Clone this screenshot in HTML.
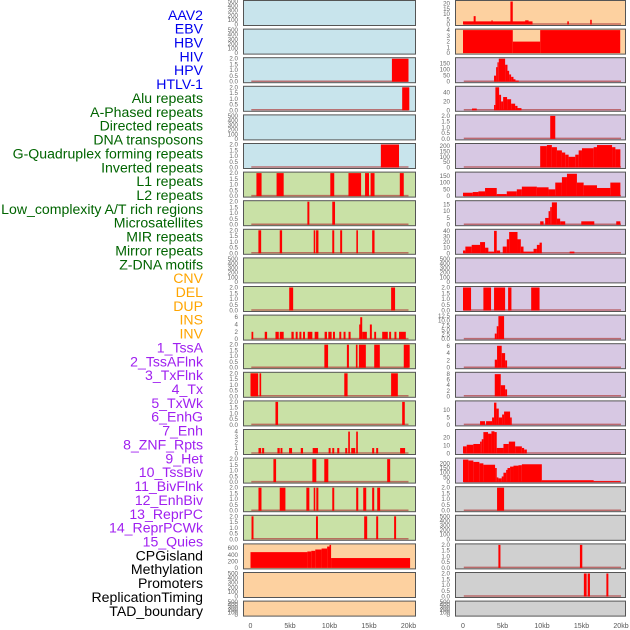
<!DOCTYPE html>
<html><head><meta charset="utf-8"><style>
body{margin:0;background:#fff;}
svg{display:block;font-family:"Liberation Sans",sans-serif;}
</style></head><body>
<svg id="c" width="630" height="630" viewBox="0 0 630 630"></svg>
<script>
// ---- data ----
const trackLabels = ["AAV2","EBV","HBV","HIV","HPV","HTLV-1","Alu repeats","A-Phased repeats","Directed repeats","DNA transposons","G-Quadruplex forming repeats","Inverted repeats","L1 repeats","L2 repeats","Low_complexity A/T rich regions","Microsatellites","MIR repeats","Mirror repeats","Z-DNA motifs","CNV","DEL","DUP","INS","INV","1_TssA","2_TssAFlnk","3_TxFlnk","4_Tx","5_TxWk","6_EnhG","7_Enh","8_ZNF_Rpts","9_Het","10_TssBiv","11_BivFlnk","12_EnhBiv","13_ReprPC","14_ReprPCWk","15_Quies","CPGisland","Methylation","Promoters","ReplicationTiming","TAD_boundary"];
const labelColors = ["#0000ee","#006400","#ffa500","#a020f0","#000000"];
const labelGroupSizes = [6,13,5,15,5];
const xTicks = [0,5000,10000,15000,20000];
const xTickLabels = ["0","5kb","10kb","15kb","20kb"];
const ticks500 = [0,100,200,300,400,500];
const ticks2 = [0,0.5,1,1.5,2];
// left column segments [startKb, endKb, value]
const L2 = [[17.9,20.0,2]];
const L3 = [[19.2,20.1,2]];
const L5 = [[16.5,18.8,2]];
const L6 = [[0.75,1.4,2],[3.3,4.2,2],[10.1,10.6,2],[12.4,14.0,2],[14.5,15.0,2],[15.2,15.7,2],[18.9,19.4,2]];
const L7 = [[7.2,7.45,2],[10.35,10.7,2]];
const L8 = [[1.0,1.35,2],[3.7,4.0,2],[8.0,8.2,2],[8.3,8.6,2],[10.35,10.6,2],[11.35,11.6,2],[13.4,13.6,2],[15.4,15.7,2]];
const L10 = [[4.9,5.4,2],[17.8,18.3,2]];
const L11 = [[0.13,0.35,2],[1.8,2.1,2],[3.16,3.58,2],[3.7,4.2,2],[5.18,5.47,2],[5.72,5.97,2],[6.19,6.44,2],[6.65,6.9,2],[7.24,7.83,2],[8.12,8.59,2],[9.38,9.68,2],[9.85,10.27,2],[10.44,10.69,2],[11.24,11.49,2],[11.78,12.03,2],[12.41,12.67,2],[13.76,13.98,4],[13.89,14.14,6],[14.14,14.73,2],[15.11,15.36,4],[15.66,15.9,2],[16.67,17.38,2],[17.55,17.8,2],[18.22,18.47,2],[18.8,19.66,2]];
const L12 = [[9.35,9.82,2],[12.2,12.46,2],[13.34,13.55,2],[13.72,14.6,2],[15.66,16.37,2],[19.4,20.15,2]];
const L13 = [[0,0.97,2],[1.14,1.35,2],[11.87,12.29,2],[17.8,18.65,2]];
const L14 = [[3.16,3.49,2],[19.2,19.53,2]];
const L15 = [[1.01,1.35,1],[1.47,1.73,1],[3.41,3.7,1],[3.8,4.04,1],[4.88,5.26,1],[6.36,6.65,1],[7.87,8.54,1],[9.89,10.14,1],[10.35,10.6,1],[10.98,11.24,1],[11.99,12.25,1],[12.37,12.58,4],[12.75,13.26,1],[13.38,13.59,4],[15.4,15.66,1],[15.91,16.16,1],[18.94,19.57,1]];
const L16 = [[2.9,3.24,2],[7.83,8.33,2],[9.34,9.85,2],[17.3,17.68,2]];
const L17 = [[1.01,1.39,2],[3.7,4.42,2],[7.07,7.45,2],[8.0,8.2,2],[8.33,8.59,2],[10.35,10.6,2],[13.38,13.64,2],[14.27,14.65,2],[15.4,15.66,2],[16.04,16.41,2]];
const L18 = [[0.13,0.38,2],[8.29,8.54,2],[14.39,14.77,2],[15.91,16.16,2],[18.18,18.43,2]];
const L19 = [[0,7.2,480],[7.2,7.7,500],[7.7,8.2,520],[8.2,9.0,560],[9.0,9.7,590],[9.7,10.0,650],[10.0,10.2,700],[10.2,20.2,300]];
// right column segments
const R0 = [[0,8.8,3],[1.35,1.6,8],[3.6,3.75,4],[6.0,6.3,22],[7.87,8.3,4],[13.2,13.4,3],[16.1,16.3,4.5]];
const R1 = [[0,6.3,4],[6.3,9.77,2],[9.77,19.9,4]];
const R2 = [[3.93,4.19,50],[4.19,4.36,120],[4.36,4.53,160],[4.53,5.33,190],[5.33,5.63,140],[5.63,5.84,90],[5.84,6.09,60],[6.09,6.39,40],[6.39,6.64,20],[6.64,7.06,10]];
const R3 = [[1.14,1.74,4],[3.93,4.1,12],[4.1,4.57,52],[4.57,4.82,35],[4.82,5.08,20],[5.08,5.58,30],[5.58,6.09,25],[6.09,6.6,15],[6.6,6.9,10],[6.9,7.4,5]];
const R4 = [[11.04,11.68,2]];
const R5 = [[9.77,10.62,200],[10.62,11.25,210],[11.25,11.89,190],[11.89,12.52,160],[12.52,12.94,140],[12.94,13.37,120],[13.37,14.21,100],[14.21,14.64,120],[14.64,15.06,160],[15.06,16.54,180],[16.54,16.96,190],[16.96,18.87,210],[18.87,19.29,190],[19.29,19.92,170]];
const R6 = [[0,1.23,25],[1.23,1.95,30],[1.95,2.79,35],[2.79,4.27,60],[4.27,5.54,15],[5.54,6.81,35],[6.81,7.45,50],[7.45,9.35,70],[9.35,10.83,65],[10.83,11.68,50],[11.68,12.52,100],[12.52,13.16,140],[13.16,14.42,165],[14.42,15.27,100],[15.27,16.96,80],[16.96,18.65,60],[18.65,19.92,100]];
const R7 = [[9.77,10.2,2.5],[10.4,10.83,5],[10.83,11.04,10],[11.04,11.25,13],[11.25,11.89,16.5],[11.89,12.3,4.5],[12.3,12.94,2.5],[14.97,16.62,2.5],[19.4,19.92,2.5]];
const R8 = [[0,0.3,5],[0.3,1.1,12],[1.1,2.16,15],[2.16,2.79,20],[2.79,3.21,10],[3.21,3.93,3],[3.93,4.27,40],[4.27,4.7,5],[5.03,5.54,12],[5.54,5.84,25],[5.84,6.9,38],[6.9,7.32,25],[7.32,7.66,12],[7.66,8.93,3],[8.93,9.35,8],[9.35,9.69,15],[9.69,9.98,19],[13.5,14.1,3]];
const R10 = [[0,1.02,2],[2.58,3.55,2],[3.93,5.33,2],[5.71,6.13,2],[8.63,9.69,2]];
const R11 = [[4.02,4.27,3],[4.27,4.48,7],[4.48,5.2,12.5]];
const R12 = [[4.02,4.31,2.2],[4.31,4.9,6],[4.9,5.33,4],[5.33,5.58,2]];
const R13 = [[4.02,4.78,8],[4.78,5.33,4],[5.33,5.58,2.5]];
const R14 = [[2.16,2.79,2.5],[2.92,3.68,2.5],[3.68,3.93,5],[3.93,4.23,15],[4.23,4.53,11],[4.53,4.95,5],[4.95,5.2,7],[5.2,5.96,9],[5.96,6.17,5]];
const R15 = [[0,0.47,9],[0.47,1.31,11],[1.31,2.16,12],[2.16,2.37,15],[2.37,2.58,18],[2.58,3.17,27],[3.17,3.6,25],[3.6,3.98,28],[3.98,4.27,27],[4.27,5.12,7],[5.12,5.8,12],[5.8,6.6,15],[6.6,7.45,9],[7.45,7.74,7],[7.74,8.08,5]];
const R16 = [[0,0.68,240],[0.68,1.31,230],[1.31,2.07,215],[2.07,2.58,200],[2.58,4.06,185],[4.06,4.27,150],[4.27,4.48,50],[4.48,4.9,40],[4.9,5.12,60],[5.12,5.46,100],[5.46,5.63,130],[5.63,5.96,150],[5.96,6.39,165],[6.39,7.02,175],[7.02,7.45,180],[7.45,9.98,190],[9.98,16.54,20],[16.54,19.92,10]];
const R17 = [[4.31,5.2,2]];
const R19 = [[4.48,4.74,2],[14.8,15.1,2]];
const R20 = [[15.3,15.65,2],[15.78,16.07,2],[18.15,18.4,2]];

const BLUE="#c8e4ec",ORANGE="#fdd1a0",PURPLE="#d7c8e3",GREEN="#c9e1a6",GREY="#d0d0d0";
const panels = [
 {c:0,r:0,bg:BLUE,ymax:500,ticks:ticks500,segs:null},
 {c:0,r:1,bg:BLUE,ymax:500,ticks:ticks500,segs:null},
 {c:0,r:2,bg:BLUE,ymax:2,ticks:ticks2,segs:L2},
 {c:0,r:3,bg:BLUE,ymax:2,ticks:ticks2,segs:L3},
 {c:0,r:4,bg:BLUE,ymax:500,ticks:ticks500,segs:null},
 {c:0,r:5,bg:BLUE,ymax:2,ticks:ticks2,segs:L5},
 {c:0,r:6,bg:GREEN,ymax:2,ticks:ticks2,segs:L6},
 {c:0,r:7,bg:GREEN,ymax:2,ticks:ticks2,segs:L7},
 {c:0,r:8,bg:GREEN,ymax:2,ticks:ticks2,segs:L8},
 {c:0,r:9,bg:GREEN,ymax:500,ticks:ticks500,segs:null},
 {c:0,r:10,bg:GREEN,ymax:2,ticks:ticks2,segs:L10},
 {c:0,r:11,bg:GREEN,ymax:6.3,ticks:[0,2,4,6],segs:L11},
 {c:0,r:12,bg:GREEN,ymax:2,ticks:ticks2,segs:L12},
 {c:0,r:13,bg:GREEN,ymax:2,ticks:ticks2,segs:L13},
 {c:0,r:14,bg:GREEN,ymax:2,ticks:ticks2,segs:L14},
 {c:0,r:15,bg:GREEN,ymax:4.2,ticks:[0,1,2,3,4],segs:L15},
 {c:0,r:16,bg:GREEN,ymax:2,ticks:ticks2,segs:L16},
 {c:0,r:17,bg:GREEN,ymax:2,ticks:ticks2,segs:L17},
 {c:0,r:18,bg:GREEN,ymax:2,ticks:ticks2,segs:L18},
 {c:0,r:19,bg:ORANGE,ymax:700,ticks:[0,200,400,600],segs:L19,nobase:true},
 {c:0,r:20,bg:ORANGE,ymax:500,ticks:ticks500,segs:null},
 {c:0,r:21,bg:ORANGE,ymax:500,ticks:ticks500,segs:null},
 {c:1,r:0,bg:ORANGE,ymax:22,ticks:[0,5,10,15,20],segs:R0},
 {c:1,r:1,bg:ORANGE,ymax:4,ticks:[0,1,2,3,4],segs:R1,nobase:true},
 {c:1,r:2,bg:PURPLE,ymax:190,ticks:[0,50,100,150],segs:R2},
 {c:1,r:3,bg:PURPLE,ymax:52,ticks:[0,20,40],segs:R3},
 {c:1,r:4,bg:PURPLE,ymax:2,ticks:ticks2,segs:R4},
 {c:1,r:5,bg:PURPLE,ymax:215,ticks:[0,50,100,150,200],segs:R5},
 {c:1,r:6,bg:PURPLE,ymax:170,ticks:[0,50,100,150],segs:R6},
 {c:1,r:7,bg:PURPLE,ymax:17,ticks:[0,5,10,15],segs:R7},
 {c:1,r:8,bg:PURPLE,ymax:41,ticks:[0,10,20,30,40],segs:R8},
 {c:1,r:9,bg:PURPLE,ymax:500,ticks:ticks500,segs:null},
 {c:1,r:10,bg:PURPLE,ymax:2,ticks:ticks2,segs:R10},
 {c:1,r:11,bg:PURPLE,ymax:12.5,ticks:[0,2.5,5,7.5,10,12.5],segs:R11,dec:true},
 {c:1,r:12,bg:PURPLE,ymax:6.3,ticks:[0,2,4,6],segs:R12},
 {c:1,r:13,bg:PURPLE,ymax:8.3,ticks:[0,2,4,6,8],segs:R13},
 {c:1,r:14,bg:PURPLE,ymax:15.5,ticks:[0,5,10],segs:R14},
 {c:1,r:15,bg:PURPLE,ymax:29,ticks:[0,10,20],segs:R15},
 {c:1,r:16,bg:PURPLE,ymax:245,ticks:[0,50,100,150,200],segs:R16},
 {c:1,r:17,bg:GREY,ymax:2,ticks:ticks2,segs:R17},
 {c:1,r:18,bg:GREY,ymax:500,ticks:ticks500,segs:null},
 {c:1,r:19,bg:GREY,ymax:2,ticks:ticks2,segs:R19},
 {c:1,r:20,bg:GREY,ymax:2,ticks:ticks2,segs:R20},
 {c:1,r:21,bg:GREY,ymax:500,ticks:ticks500,segs:null}
];

// ---- rendering ----
const NS="http://www.w3.org/2000/svg";
const svg=document.getElementById('c');
function mk(tag,attrs,parent){const e=document.createElementNS(NS,tag);for(const k in attrs)e.setAttribute(k,attrs[k]);(parent||svg).appendChild(e);return e;}
const colBox=[[243,416],[455,626]];
const colX0=[250.5,463];
const PXKB=7.9;
function xScale(c,kb){return colX0[c]+kb*PXKB;}
function rowTop(r){return 0.5+r*28.6;}
function rowH(r){return r===21?15:25;}
function yScale(p,v){const t=rowTop(p.r),h=rowH(p.r);return t+h-1-(v/p.ymax)*(h-2);}

let li=0;
labelGroupSizes.forEach((n,g)=>{for(let k=0;k<n;k++){
  const t=mk('text',{x:203,y:15+li*13.86+4.8,'text-anchor':'end','font-size':'14.1',fill:labelColors[g]});
  
  
  t.textContent=trackLabels[li];li++;}});

panels.forEach(p=>{
  const g=mk('g',{});
  
  
  const t=rowTop(p.r),h=rowH(p.r),[x0,x1]=colBox[p.c];
  const bg=mk('rect',{x:x0,y:t,width:x1-x0,height:h,fill:p.bg},g);
  
  
  if(p.segs){
    if(!p.nobase){
      const bl=mk('line',{x1:xScale(p.c,0.1),x2:xScale(p.c,20),y1:yScale(p,0)-0.5,y2:yScale(p,0)-0.5,stroke:'#b04040','stroke-width':1.5,'stroke-opacity':0.7},g);
      
      
    }
    p.segs.forEach(s=>{
      const xa=xScale(p.c,s[0]),xb=xScale(p.c,s[1]),ya=yScale(p,s[2]),yb=yScale(p,0);
      const b=mk('rect',{x:xa,y:ya,width:Math.max(1.2,xb-xa),height:yb-ya,fill:'#ff0000'},g);
      
      
    });
  }
  const br=mk('rect',{x:x0+0.5,y:t,width:x1-x0-1,height:h,fill:'none',stroke:'#555','stroke-width':1},g);
  
  
  p.ticks.forEach(v=>{
    const lab=p.dec?v.toFixed(1):(p.ymax<=2?v.toFixed(1):String(v));
    const tx=mk('text',{x:x0-5,y:yScale(p,v)+2,'text-anchor':'end','font-size':'6.2',fill:'#666'},g);
    
    
    tx.textContent=lab;
  });
});
[0,1].forEach(c=>{xTicks.forEach((v,i)=>{
  const tx=mk('text',{x:xScale(c,v/1000),y:628,'text-anchor':'middle','font-size':'7',fill:'#555'});
  
  
  tx.textContent=xTickLabels[i];
});});
</script>
</body></html>
